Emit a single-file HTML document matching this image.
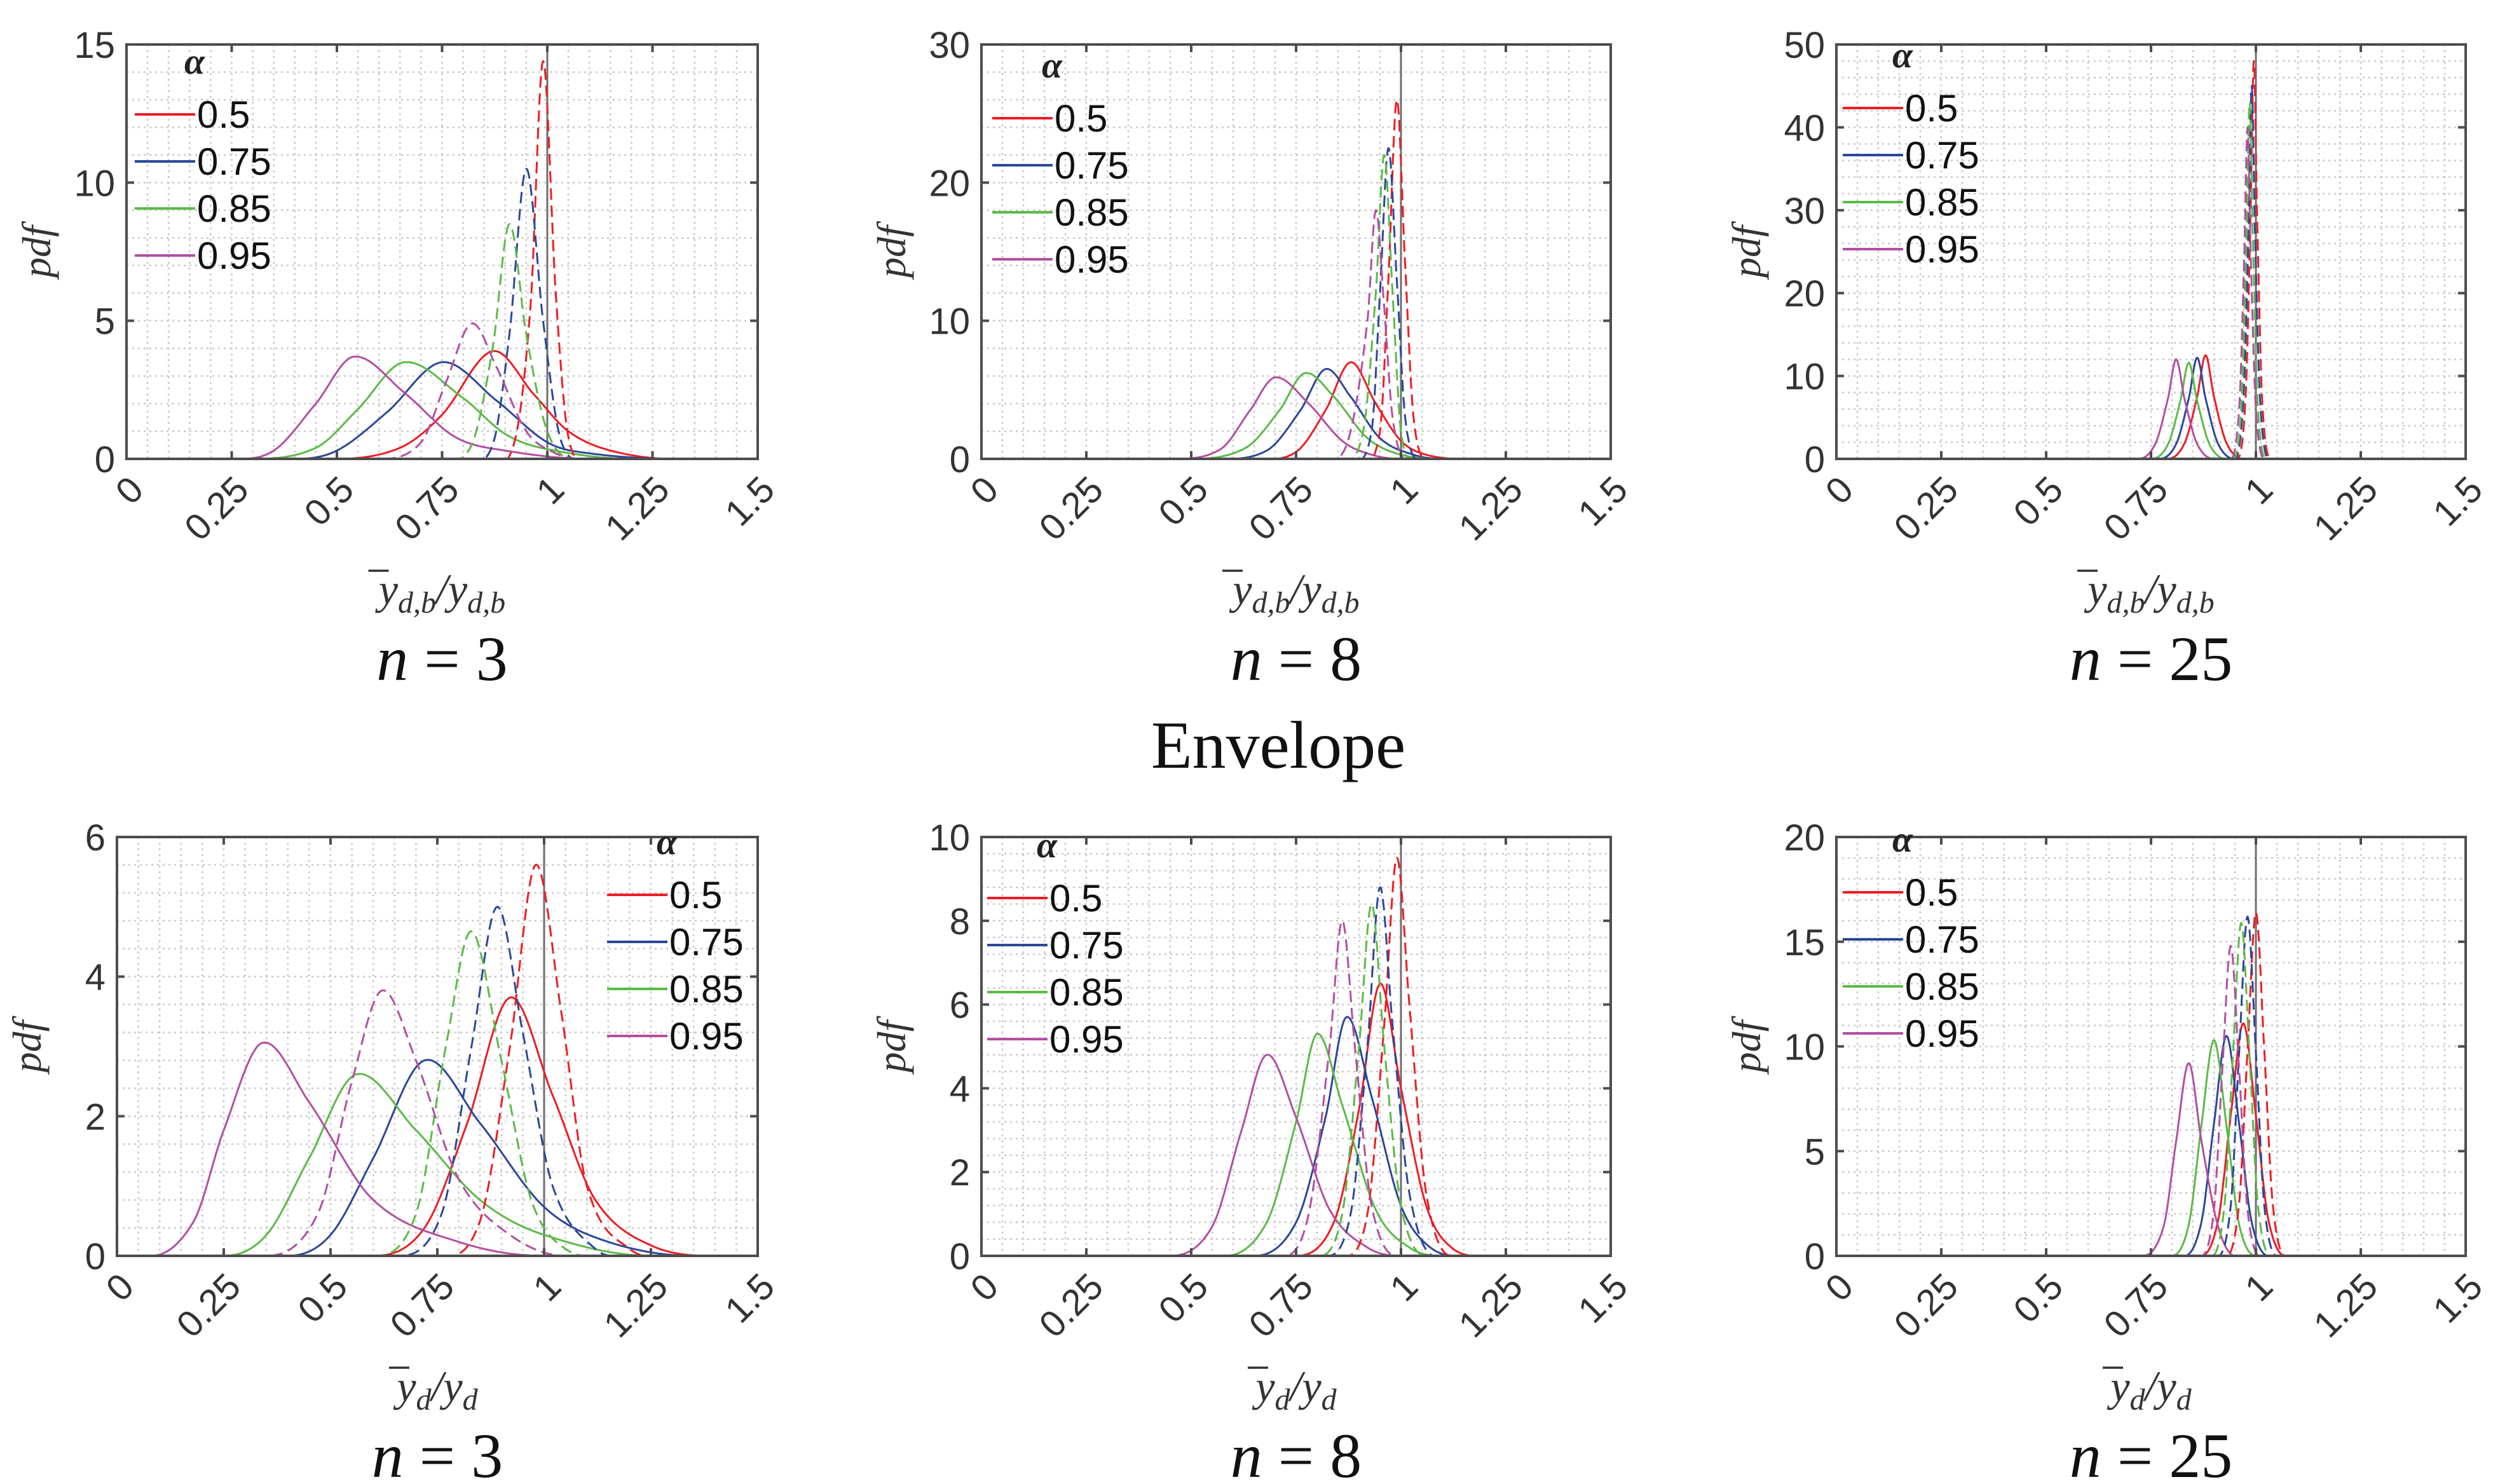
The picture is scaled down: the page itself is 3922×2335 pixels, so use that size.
<!DOCTYPE html>
<html><head><meta charset="utf-8"><style>
html,body{margin:0;padding:0;background:#fff;}
svg{display:block;}
</style></head><body>
<svg id="fig" width="3922" height="2335" viewBox="0 0 3922 2335" xmlns="http://www.w3.org/2000/svg">
<rect width="3922" height="2335" fill="#fff"/>
<text x="2011" y="1208" font-family="Liberation Serif, serif" font-size="106" text-anchor="middle" fill="#111">Envelope</text>
</svg>
<script>
const colors=['#ee1c24','#2b479a','#5bba47','#b44ea0'];
const alphaLabels=[' 0.5','0.75','0.85','0.95'];
const xTicks=[0,0.25,0.5,0.75,1,1.25,1.5];
const xTickLabels=['0','0.25','0.5','0.75','1','1.25','1.5'];
const yMaxes=[15,30,50,6,10,20];
const yStepsMajor=[5,10,10,2,2,5];
const nLabels=['3','8','25','3','8','25'];
const xLabelKinds=['db','db','db','d','d','d'];

const p1Solid=[
[[0.5,0],[0.65,0.4],[0.75,1.6],[0.87,3.9],[0.97,2.3],[1.05,1.0],[1.15,0.3],[1.3,0]],
[[0.4,0],[0.5,0.3],[0.62,1.7],[0.75,3.5],[0.88,2.1],[1.0,0.6],[1.1,0.2],[1.3,0]],
[[0.3,0],[0.45,0.4],[0.55,1.8],[0.66,3.5],[0.8,2.2],[0.9,0.9],[1.0,0.35],[1.2,0]],
[[0.25,0],[0.35,0.3],[0.45,2.0],[0.54,3.7],[0.66,2.4],[0.78,0.8],[0.9,0.3],[1.1,0]]];
const p1Dash=[
[[0.85,0],[0.92,0.5],[0.96,5.5],[0.99,14.4],[1.02,6],[1.05,0.8],[1.1,0]],
[[0.8,0],[0.87,0.5],[0.91,4.5],[0.95,10.5],[0.99,5],[1.03,0.8],[1.08,0]],
[[0.75,0],[0.82,0.5],[0.87,4],[0.91,8.5],[0.95,4.5],[1.0,1],[1.06,0]],
[[0.6,0],[0.7,0.6],[0.76,2.8],[0.82,4.9],[0.88,3.3],[0.95,1.0],[1.02,0.2],[1.08,0]]];
const p2Solid=[
[[0.65,0],[0.75,0.5],[0.82,3.5],[0.88,7],[0.94,4],[1.0,1.3],[1.06,0.3],[1.15,0]],
[[0.55,0],[0.68,0.6],[0.76,3.5],[0.82,6.5],[0.88,4.5],[0.95,1.5],[1.03,0.3],[1.1,0]],
[[0.5,0],[0.63,0.8],[0.71,3.5],[0.77,6.2],[0.84,4.5],[0.92,1.5],[1.0,0.3],[1.1,0]],
[[0.45,0],[0.57,0.7],[0.64,3.5],[0.7,5.9],[0.78,4],[0.86,1.3],[0.93,0.3],[1.0,0]]];
const p2Dash=[
[[0.9,0],[0.95,2],[0.97,13],[0.99,26],[1.01,14],[1.03,3],[1.06,0]],
[[0.88,0],[0.93,2],[0.95,12],[0.97,22.5],[0.99,13],[1.01,3],[1.04,0]],
[[0.86,0],[0.91,2],[0.94,12],[0.96,22],[0.98,12],[1.0,2],[1.03,0]],
[[0.84,0],[0.88,2],[0.92,10],[0.94,18],[0.96,11],[0.98,3],[1.01,0]]];
const p3Solid=[
[[0.79,0],[0.83,1.9],[0.86,7.5],[0.88,12.5],[0.9,7.5],[0.93,1.9],[0.97,0]],
[[0.77,0],[0.81,1.8],[0.84,7.3],[0.86,12.2],[0.88,7.3],[0.91,1.8],[0.95,0]],
[[0.75,0],[0.79,1.7],[0.82,7],[0.84,11.6],[0.86,7],[0.89,1.7],[0.93,0]],
[[0.72,0],[0.76,1.8],[0.79,7.2],[0.81,12],[0.83,7.2],[0.86,1.8],[0.9,0]]];
const p3Dash=[
[[0.955,0],[0.975,7],[0.987,29],[0.995,48],[1.003,29],[1.015,7],[1.035,0]],
[[0.95,0],[0.97,7],[0.982,27],[0.99,45],[0.998,27],[1.01,7],[1.03,0]],
[[0.945,0],[0.965,6],[0.977,26],[0.985,43],[0.993,26],[1.005,6],[1.025,0]],
[[0.94,0],[0.96,6],[0.972,24],[0.98,40],[0.988,24],[1.0,6],[1.02,0]]];
const p4Solid=[
[[0.6,0],[0.72,0.4],[0.82,1.9],[0.92,3.7],[1.02,2.3],[1.12,0.8],[1.25,0.15],[1.4,0]],
[[0.4,0],[0.5,0.3],[0.6,1.4],[0.72,2.8],[0.85,1.9],[1.0,0.7],[1.15,0.2],[1.35,0]],
[[0.25,0],[0.35,0.3],[0.45,1.4],[0.56,2.6],[0.7,1.8],[0.85,0.8],[1.0,0.3],[1.25,0]],
[[0.08,0],[0.18,0.5],[0.25,1.8],[0.34,3.05],[0.45,2.2],[0.6,0.8],[0.8,0.2],[1.0,0]]];
const p4Dash=[
[[0.75,0],[0.85,0.5],[0.92,3],[0.98,5.6],[1.04,3.5],[1.1,1],[1.2,0.1],[1.3,0]],
[[0.65,0],[0.76,0.6],[0.83,3],[0.89,5.0],[0.95,3.2],[1.02,1],[1.12,0.1],[1.2,0]],
[[0.6,0],[0.7,0.6],[0.77,3],[0.83,4.65],[0.9,2.8],[0.97,0.8],[1.05,0.1],[1.15,0]],
[[0.35,0],[0.47,0.6],[0.55,2.5],[0.62,3.8],[0.7,2.8],[0.8,1.1],[0.92,0.3],[1.05,0]]];
const p5Solid=[
[[0.75,0],[0.84,0.8],[0.9,3.5],[0.95,6.5],[1.0,4],[1.06,1.2],[1.12,0.2],[1.2,0]],
[[0.65,0],[0.75,0.8],[0.82,3.3],[0.87,5.7],[0.93,3.8],[1.0,1.2],[1.07,0.2],[1.15,0]],
[[0.58,0],[0.68,0.8],[0.75,3.2],[0.8,5.3],[0.86,3.6],[0.94,1.1],[1.02,0.2],[1.1,0]],
[[0.45,0],[0.55,0.7],[0.62,3],[0.68,4.8],[0.75,3.3],[0.83,1.1],[0.92,0.2],[1.0,0]]];
const p5Dash=[
[[0.86,0],[0.92,1],[0.96,5.5],[0.99,9.5],[1.02,6],[1.06,1.5],[1.12,0]],
[[0.82,0],[0.88,1],[0.92,5],[0.95,8.8],[0.98,5.5],[1.02,1.5],[1.08,0]],
[[0.8,0],[0.86,1],[0.9,5],[0.93,8.4],[0.96,5],[1.0,1.2],[1.06,0]],
[[0.72,0],[0.78,1],[0.83,5],[0.86,8],[0.89,5],[0.93,1.2],[0.99,0]]];
const p6Solid=[
[[0.87,0],[0.91,1.7],[0.94,6.7],[0.97,11.1],[1.0,6.7],[1.03,1.7],[1.07,0]],
[[0.83,0],[0.87,1.6],[0.9,6.3],[0.93,10.5],[0.96,6.3],[0.99,1.6],[1.03,0]],
[[0.8,0],[0.84,1.5],[0.87,6.2],[0.9,10.3],[0.93,6.2],[0.96,1.5],[1.0,0]],
[[0.73,0],[0.78,1.4],[0.81,5.5],[0.84,9.2],[0.87,5.5],[0.91,1.4],[0.95,0]]];
const p6Dash=[
[[0.93,0],[0.96,2.5],[0.98,9.8],[1.0,16.4],[1.02,9.8],[1.04,2.5],[1.07,0]],
[[0.91,0],[0.94,2.4],[0.96,9.7],[0.98,16.2],[1.0,9.7],[1.02,2.4],[1.05,0]],
[[0.895,0],[0.925,2.4],[0.945,9.5],[0.965,15.9],[0.985,9.5],[1.005,2.4],[1.035,0]],
[[0.87,0],[0.9,2.2],[0.92,8.9],[0.94,14.8],[0.96,8.9],[0.98,2.2],[1.01,0]]];
const solids=[p1Solid,p2Solid,p3Solid,p4Solid,p5Solid,p6Solid];
const dashes=[p1Dash,p2Dash,p3Dash,p4Dash,p5Dash,p6Dash];

const boxes=[[199,70,1192,722],[1544,70,2534,722],[2889,70,3879,722],[184,1317,1192,1976],[1544,1317,2534,1976],[2889,1317,3879,1976]];
const legendPos=[[212,102],[1561,108],[2899,92],[955,1330],[1553,1335],[2899,1326]];

const NS='http://www.w3.org/2000/svg';
const fig=document.getElementById('fig');
function mk(tag,attrs,parent){const e=document.createElementNS(NS,tag);for(const k in attrs)e.setAttribute(k,attrs[k]);(parent||fig).appendChild(e);return e;}

function smooth(pts){
  const n=pts.length,out=[];
  const P=i=>pts[Math.max(0,Math.min(n-1,i))];
  for(let i=0;i<n-1;i++){
    const p0=P(i-1),p1=P(i),p2=P(i+1),p3=P(i+2);
    const h=p2[0]-p1[0];
    const m1=(i===0)?0:(p2[1]-p0[1])/(p2[0]-p0[0]);
    const m2=(i+1===n-1)?0:(p3[1]-p1[1])/(p3[0]-p1[0]);
    for(let k=0;k<24;k++){const t=k/24,t2=t*t,t3=t2*t;
      const y=(2*t3-3*t2+1)*p1[1]+(t3-2*t2+t)*h*m1+(-2*t3+3*t2)*p2[1]+(t3-t2)*h*m2;
      out.push([p1[0]+t*h,Math.max(0,y)]);}
  }
  out.push(pts[n-1]);return out;
}

boxes.forEach((b,pi)=>{
  const [L,T,R,B]=b;
  const ymax=yMaxes[pi],step=yStepsMajor[pi];
  const sx=v=>L+(v/1.5)*(R-L), sy=v=>B-(v/ymax)*(B-T);
  const g=mk('g',{});
  
  
  for(let v=0;v<=1.5001;v+=0.05){const x=sx(v);mk('line',{x1:x,y1:T,x2:x,y2:B,stroke:'#c8c8c8','stroke-width':2.5,'stroke-dasharray':'3 6'},g);}
  for(let v=0;v<=ymax+1e-9;v+=step/5){const y=sy(v);mk('line',{x1:L,y1:y,x2:R,y2:y,stroke:'#c8c8c8','stroke-width':2.5,'stroke-dasharray':'3 6'},g);}
  mk('line',{x1:sx(1),y1:T,x2:sx(1),y2:B,stroke:'#6e6e6e','stroke-width':3},g);
  const drawCurve=(pts,ci,dashed,name)=>{
    const full=[[0,0]].concat(smooth(pts)).concat([[1.5,0]]);
    const d='M'+full.map(p=>sx(p[0]).toFixed(1)+','+sy(p[1]).toFixed(1)).join('L');
    const e=mk('path',{d:d,fill:'none',stroke:colors[ci],'stroke-width':3,'stroke-dasharray':dashed?'18 9':'none','stroke-linejoin':'round'},g);
    
    
  };
  solids[pi].forEach((pts,ci)=>drawCurve(pts,ci,false,'solid-curve-alpha-'+alphaLabels[ci].trim()));
  dashes[pi].forEach((pts,ci)=>drawCurve(pts,ci,true,'dashed-curve-alpha-'+alphaLabels[ci].trim()));
  mk('rect',{x:L,y:T,width:R-L,height:B-T,fill:'none',stroke:'#4d4d4d','stroke-width':4},g);
  xTicks.forEach((v,i)=>{const x=sx(v);
    mk('line',{x1:x,y1:B,x2:x,y2:B-12,stroke:'#4d4d4d','stroke-width':4},g);
    mk('line',{x1:x,y1:T,x2:x,y2:T+12,stroke:'#4d4d4d','stroke-width':4},g);
    const t=mk('text',{x:x+30,y:B+52,'font-family':'Liberation Sans, sans-serif','font-size':58,'text-anchor':'end',fill:'#333',transform:`rotate(-45 ${x+30} ${B+52})`},g);
    t.textContent=xTickLabels[i];
    
    
  });
  for(let v=0;v<=ymax+1e-9;v+=step){const y=sy(v);
    mk('line',{x1:L,y1:y,x2:L+12,y2:y,stroke:'#4d4d4d','stroke-width':4},g);
    mk('line',{x1:R,y1:y,x2:R-12,y2:y,stroke:'#4d4d4d','stroke-width':4},g);
    const t=mk('text',{x:L-18,y:y+21,'font-family':'Liberation Sans, sans-serif','font-size':58,'text-anchor':'end',fill:'#333'},g);
    t.textContent=String(v);
    
    
  }
  const yl=mk('text',{x:L-120,y:(T+B)/2,'font-family':'Liberation Serif, serif','font-style':'italic','font-size':64,'text-anchor':'middle',fill:'#333',transform:`rotate(-90 ${L-120} ${(T+B)/2})`},g);
  yl.textContent='pdf';
  
  
  const cx=(L+R)/2, xy=B+228;
  const xl=mk('text',{x:cx,y:xy,'font-family':'Liberation Serif, serif','font-style':'italic','font-size':68,'text-anchor':'middle',fill:'#333'},g);
  
  
  const sub=xLabelKinds[pi]==='db'?'d,b':'d';
  xl.innerHTML=`y<tspan font-size="48" dy="14">${sub}</tspan><tspan dy="-14">/y</tspan><tspan font-size="48" dy="14">${sub}</tspan>`;
  const w=xLabelKinds[pi]==='db'?240:160;
  mk('line',{x1:cx-w/2+4,y1:xy-52,x2:cx-w/2+36,y2:xy-52,stroke:'#333','stroke-width':3.5},g);
  const st=mk('text',{x:cx,y:B+348,'font-family':'Liberation Serif, serif','font-size':100,'text-anchor':'middle',fill:'#111','xml:space':'preserve'},g);
  st.innerHTML=`<tspan font-style="italic">n</tspan>  = ${nLabels[pi]}`;
  
  
  const [lx,ly]=legendPos[pi];
  const a=mk('text',{x:lx+78,y:ly+14,'font-family':'Liberation Serif, serif','font-style':'italic','font-weight':'bold','font-size':58,fill:'#222'},g);
  a.textContent='α';
  
  
  alphaLabels.forEach((lab,ci)=>{const y=ly+78+ci*74;
    mk('line',{x1:lx,y1:y,x2:lx+95,y2:y,stroke:colors[ci],'stroke-width':4},g);
    const t=mk('text',{x:lx+98,y:y+21,'font-family':'Liberation Sans, sans-serif','font-size':60,fill:'#111','xml:space':'preserve'},g);
    t.textContent=lab;
    
    
  });
});
</script>
</body></html>
